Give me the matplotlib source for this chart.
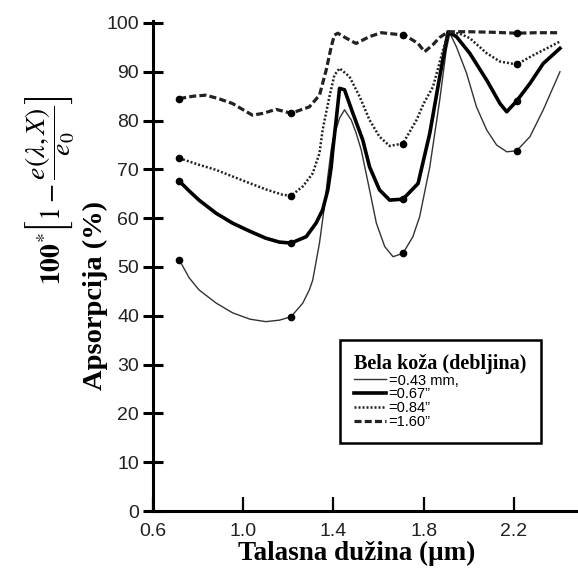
import matplotlib
matplotlib.use("Agg")
import matplotlib.pyplot as plt

# readings from the reference (wavelength in um, absorption in %)
x_043 = [0.716, 0.76, 0.804, 0.88, 0.953, 1.03, 1.10, 1.16, 1.212, 1.264, 1.293, 1.308, 1.338,
         1.36, 1.375, 1.39, 1.40, 1.427, 1.449, 1.479, 1.50, 1.523, 1.56, 1.59, 1.627, 1.664,
         1.708, 1.752, 1.782, 1.827, 1.871, 1.90, 1.916, 1.945, 1.99, 2.034, 2.079, 2.123,
         2.168, 2.212, 2.271, 2.33, 2.404]
y_043 = [51.5, 47.8, 45.3, 42.6, 40.6, 39.3, 38.8, 39.1, 39.8, 42.6, 45.3, 47.3, 54.9,
         62.4, 68.5, 74.0, 76.5, 80.5, 82.2, 80.1, 77.5, 74.0, 65.8, 59.0, 54.2, 52.1,
         52.8, 56.2, 60.3, 70.5, 84.2, 94.5, 97.9, 95.1, 89.7, 82.8, 78.1, 75.0,
         73.6, 73.8, 76.7, 82.2, 90.0]

x_067 = [0.716, 0.76, 0.804, 0.88, 0.952, 1.03, 1.10, 1.16, 1.212, 1.279, 1.323, 1.352, 1.375,
         1.39, 1.397, 1.412, 1.427, 1.449, 1.486, 1.53, 1.56, 1.604, 1.649, 1.708, 1.775,
         1.827, 1.871, 1.908, 1.945, 2.004, 2.079, 2.138, 2.168, 2.212, 2.271, 2.33, 2.404]
y_067 = [67.6, 65.6, 63.7, 61.0, 59.0, 57.3, 55.9, 55.1, 54.9, 56.2, 59.0, 61.7, 65.8,
         70.5, 74.0, 80.1, 86.6, 86.3, 81.5, 76.0, 70.5, 65.8, 63.7, 63.9, 67.1,
         77.4, 89.0, 98.2, 97.2, 93.8, 88.3, 83.5, 81.8, 84.0, 87.6, 91.7, 94.8]

x_084 = [0.716, 0.80, 0.879, 0.95, 1.027, 1.10, 1.175, 1.212, 1.264, 1.308, 1.338, 1.352, 1.382,
         1.404, 1.427, 1.471, 1.516, 1.56, 1.604, 1.649, 1.708, 1.768, 1.80, 1.841, 1.886,
         1.908, 1.96, 2.004, 2.079, 2.138, 2.212, 2.286, 2.35, 2.404]
y_084 = [72.3, 71.0, 69.9, 68.6, 67.2, 65.9, 64.8, 64.6, 66.5, 69.2, 73.3, 78.1, 84.9,
         89.3, 90.7, 89.0, 84.9, 80.1, 76.7, 74.8, 75.3, 80.1, 83.5, 86.9, 94.5,
         98.2, 97.8, 96.9, 93.8, 92.1, 91.5, 93.4, 94.9, 96.2]

x_160 = [0.716, 0.78, 0.834, 0.89, 0.952, 1.0, 1.041, 1.09, 1.145, 1.212, 1.293, 1.338, 1.368,
         1.39, 1.404, 1.419, 1.456, 1.50, 1.53, 1.56, 1.612, 1.716, 1.775, 1.804, 1.84, 1.87,
         1.908, 2.0, 2.1, 2.212, 2.3, 2.404]
y_160 = [84.5, 85.0, 85.2, 84.5, 83.5, 82.2, 81.1, 81.5, 82.3, 81.5, 82.8, 85.2, 90.4,
         95.1, 97.5, 97.9, 96.9, 95.8, 96.5, 97.2, 98.0, 97.5, 95.8, 94.1, 95.5, 97.0,
         98.2, 98.2, 98.1, 97.9, 98.0, 98.0]

# measured points (dots)
mx = [0.716, 1.212, 1.708, 2.212]
my_043 = [51.5, 39.8, 52.8, 73.8]
my_067 = [67.6, 54.9, 63.9, 84.0]
my_084 = [72.3, 64.6, 75.3, 91.5]
my_160 = [84.5, 81.5, 97.6, 97.9]

labels = ['=0.43 mm,', '=0.67\u201d', '=0.84\u201d', '=1.60\u201d']
xticks = [0.6, 1.0, 1.4, 1.8, 2.2]
yticks = list(range(0, 101, 10))

plt.rcParams['mathtext.fontset'] = 'stix'

fig = plt.figure(figsize=(5.78, 5.71), dpi=100)
ax = fig.add_axes([153 / 578, 60 / 571, 1 - 153 / 578, 490 / 571])

ax.plot(x_043, y_043, color='#333333', lw=1.0, label=labels[0])
ax.plot(x_067, y_067, color='black', lw=2.6, label=labels[1])
ax.plot(x_084, y_084, color='#222222', lw=1.8, ls=(0, (0.8, 0.8)), label=labels[2])
ax.plot(x_160, y_160, color='#222222', lw=2.3, ls=(0, (2.2, 1.0)), label=labels[3])
for my in [my_043, my_067, my_084, my_160]:
    ax.plot(mx, my, 'o', color='black', ms=4.5)

ax.set_xlim(0.6, 2.484)
ax.set_ylim(0, 100.4)
ax.set_xticks(xticks)
ax.set_xticklabels([f'{v:.1f}' for v in xticks])
ax.set_yticks(yticks)
for s in ['top', 'right']:
    ax.spines[s].set_visible(False)
for s in ['left', 'bottom']:
    ax.spines[s].set_linewidth(2.2)
ax.tick_params(axis='x', direction='in', length=10, width=1.6, pad=9,
               labelsize=14, labelcolor='#222222')
ax.tick_params(axis='y', direction='inout', length=14, width=2.2, pad=3,
               labelsize=14, labelcolor='#222222')
for t in ax.get_xticklabels() + ax.get_yticklabels():
    t.set_fontfamily('Liberation Sans')

fig.text(357 / 578, 1 - 553 / 571, 'Talasna du\u017eina (\u03bcm)', family='Liberation Serif',
         weight='bold', fontsize=19.5, ha='center', va='center')
fig.text(95 / 578, 1 - 295 / 571, 'Apsorpcija (%)', family='Liberation Serif',
         weight='bold', fontsize=20.5, ha='center', va='center', rotation=90)
fig.text(50 / 578, 1 - 190 / 571,
         r'$\mathbf{100}^{*}\left[1-\dfrac{e(\lambda,X)}{e_0}\right]$',
         fontsize=20, ha='center', va='center', rotation=90)

leg = ax.legend(loc='upper left', bbox_to_anchor=(0.441, 0.349), alignment='left',
                frameon=True, fancybox=False, edgecolor='black', framealpha=1,
                title='Bela ko\u017ea (debljina)', prop={'family': 'Liberation Sans', 'size': 10.5},
                handlelength=2.2, handletextpad=0.15, labelspacing=-0.02, borderpad=0.95,
                borderaxespad=0)
leg.get_title().set_fontfamily('Liberation Serif')
leg.get_title().set_fontweight('bold')
leg.get_title().set_fontsize(14.5)
leg.get_frame().set_linewidth(1.8)

fig.savefig('out.png', dpi=100)
